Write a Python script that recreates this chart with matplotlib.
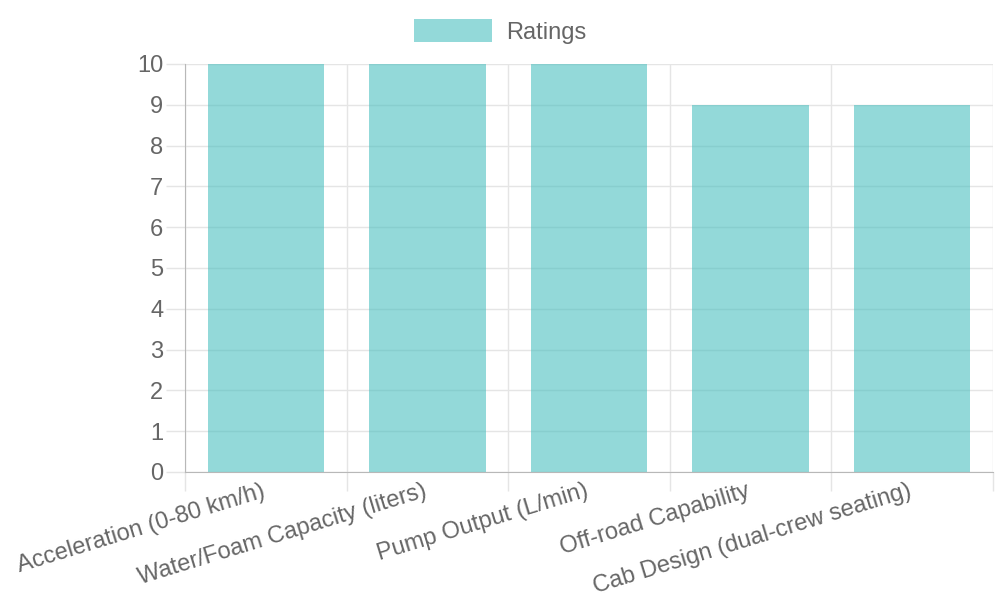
import numpy as np
import matplotlib.pyplot as plt

# Chart data
categories = ['Acceleration (0-80 km/h)', 'Water/Foam Capacity (liters)', 'Pump Output (L/min)',
              'Off-road Capability', 'Cab Design (dual-crew seating)']
ratings = [10, 10, 10, 9, 9]
seriesName = 'Ratings'

plt.rcParams['font.family'] = ['Liberation Sans', 'DejaVu Sans']
textColor = '#666666'
gridColor = '#e5e5e5'
axisColor = '#b8b8b8'
barColor = (75 / 255, 192 / 255, 192 / 255, 0.6)

fig = plt.figure(figsize=(10, 6), dpi=100)
ax = fig.add_axes([0.185, 1 - 472 / 600, 0.808, (472 - 64) / 600])

x = np.arange(len(categories))
ax.bar(x, ratings, width=0.72, color=barColor, zorder=3, label=seriesName)

ax.set_xlim(-0.5, len(categories) - 0.5)
ax.set_ylim(0, 10)
ax.set_yticks(range(0, 11))

# grid lines: horizontal at each value, vertical at category edges
for yv in range(0, 11):
    ax.axhline(yv, color=gridColor, lw=1, zorder=1)
edges = np.arange(len(categories) + 1) - 0.5
for xv in edges:
    ax.axvline(xv, color=gridColor, lw=1, zorder=1)

ax.set_xticks(edges)
ax.set_xticklabels([])
ax.tick_params(axis='x', length=14, color=gridColor, width=1)
ax.tick_params(axis='y', length=14, color=gridColor, width=1, labelsize=17,
               labelcolor=textColor, pad=1.5)

# rotated category labels anchored at category centers
for i, lab in enumerate(categories):
    ax.text(i - 0.03, -0.2, lab, rotation=17, rotation_mode='anchor', ha='right', va='top',
            fontsize=17, color=textColor, transform=ax.transData)

for side in ['top', 'right']:
    ax.spines[side].set_visible(False)
ax.spines['left'].set_color(axisColor)
ax.spines['bottom'].set_color(axisColor)
ax.spines['left'].set_zorder(4)
ax.spines['bottom'].set_zorder(4)

leg = fig.legend(loc='upper center', bbox_to_anchor=(0.5, 1.003), frameon=False,
                 fontsize=17, handlelength=3.3, handleheight=1.1, labelcolor=textColor,
                 handletextpad=0.6)

plt.savefig('out.png', dpi=100)
plt.close()
